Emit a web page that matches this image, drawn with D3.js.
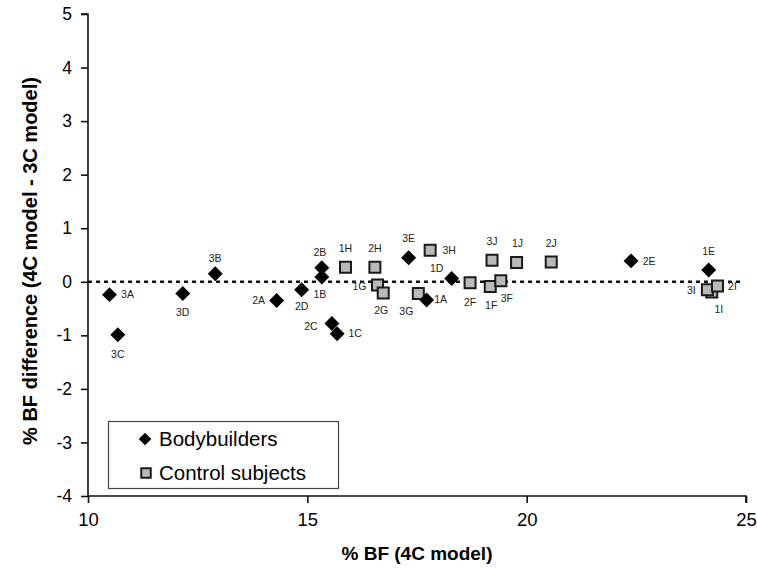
<!DOCTYPE html>
<html>
<head>
<meta charset="utf-8">
<script src="https://cdn.jsdelivr.net/npm/d3@7"></script>
<style>
  body { margin: 0; background: #fff; }
  text { font-family: Arial, "Liberation Sans", sans-serif; fill: #000; }
</style>
</head>
<body>
<script>
var W = 757, H = 570;

// 보디빌더 (diamond)
var bbIds = ["3A", "3C", "3D", "3B", "2A", "2D", "2B", "1B", "2C", "1C", "3E", "1A", "1D", "2E", "1E"];
var bbX   = [10.49, 10.68, 12.16, 12.90, 14.30, 14.87, 15.33, 15.33, 15.56, 15.68, 17.31, 17.72, 18.29, 22.38, 24.15];
var bbY   = [-0.24, -0.99, -0.22, 0.15, -0.35, -0.15, 0.26, 0.09, -0.78, -0.97, 0.45, -0.34, 0.06, 0.39, 0.22];

// 대조군 (square)
var ctIds = ["1H", "2H", "1G", "2G", "3G", "3H", "2F", "1F", "3F", "3J", "1J", "2J", "1I", "3I", "2I"];
var ctX   = [15.87, 16.54, 16.60, 16.73, 17.53, 17.80, 18.71, 19.17, 19.41, 19.21, 19.77, 20.56, 24.22, 24.12, 24.35];
var ctY   = [0.27, 0.27, -0.06, -0.21, -0.22, 0.59, -0.02, -0.09, 0.02, 0.40, 0.36, 0.37, -0.19, -0.15, -0.08];

var xTicks = [10, 15, 20, 25];
var yTicks = [5, 4, 3, 2, 1, 0, -1, -2, -3, -4];
var legendNames = ["Bodybuilders", "Control subjects"];

// label placement (dx, dy from the marker centre)
var labelPos = {
  "3A": [18, 0], "3C": [0, 19], "3D": [0, 19], "3B": [0, -16], "2A": [-18, 0],
  "2D": [0, 16], "2B": [-2, -16], "1B": [-2, 17], "2C": [-21, 3], "1C": [18, -1],
  "3E": [0, -19], "1A": [14, -1], "1D": [-15, -10], "2E": [18, 0], "1E": [0, -19],
  "1H": [0, -19], "2H": [0, -19], "1G": [-18, 1], "2G": [-2, 17], "3G": [-12, 18],
  "3H": [19, 0], "2F": [0, 19], "1F": [1, 19], "3F": [6, 18], "3J": [0, -19],
  "1J": [1, -19], "2J": [0, -19], "1I": [7, 17], "3I": [-16, 0], "2I": [15, 0]
};

var margin = {left: 88, right: 11, top: 14, bottom: 74};

var svg = d3.select("body").append("svg")
  .attr("width", W).attr("height", H);

var x = d3.scaleLinear().domain([10, 25]).range([margin.left, W - margin.right]);
var y = d3.scaleLinear().domain([-4, 5]).range([H - margin.bottom, margin.top]);

// plain hyphen for negatives, like the original
var fmt = function(d) { return String(d); };

// axes
var xAxis = svg.append("g")
  .attr("transform", "translate(0," + y(-4) + ")")
  .call(d3.axisBottom(x).tickValues(xTicks).tickSize(7).tickPadding(10).tickFormat(fmt));
xAxis.selectAll("text").style("font-size", "18.5px");

var yAxis = svg.append("g")
  .attr("transform", "translate(" + x(10) + ",0)")
  .call(d3.axisLeft(y).tickValues(yTicks).tickSize(7).tickPadding(9).tickFormat(fmt));
yAxis.selectAll("text").style("font-size", "17.5px");

svg.selectAll(".domain, .tick line").attr("stroke", "#111").attr("stroke-width", 1.6);
xAxis.select(".domain").attr("d", "M" + x(10) + ",0H" + x(25) + "V7");
yAxis.select(".domain").attr("d", "M-7," + y(5) + "H0V" + y(-4));

// zero line
svg.append("line")
  .attr("x1", x(10)).attr("x2", x(25) - 2)
  .attr("y1", y(0)).attr("y2", y(0))
  .attr("stroke", "#111").attr("stroke-width", 2.6)
  .attr("stroke-dasharray", "4,4");

// axis titles
svg.append("text")
  .attr("x", (x(10) + x(25)) / 2).attr("y", 560)
  .attr("text-anchor", "middle")
  .style("font-size", "19px").style("font-weight", "bold")
  .text("% BF (4C model)");

svg.append("text")
  .attr("transform", "translate(37," + ((y(5) + y(-4)) / 2 + 6) + ") rotate(-90)")
  .attr("text-anchor", "middle")
  .style("font-size", "20px").style("font-weight", "bold")
  .text("% BF difference (4C model - 3C model)");

var diamond = d3.symbol().type(d3.symbolSquare).size(112);
var square = d3.symbol().type(d3.symbolSquare).size(121);

var bb = bbIds.map(function(id, i) { return {id: id, x: bbX[i], y: bbY[i]}; });
var ct = ctIds.map(function(id, i) { return {id: id, x: ctX[i], y: ctY[i]}; });

// control subjects
svg.selectAll("path.ct")
  .data(ct)
  .enter()
  .append("path")
  .attr("class", "ct")
  .attr("d", square)
  .attr("transform", function(d) { return "translate(" + x(d.x) + "," + y(d.y) + ")"; })
  .attr("fill", "#b9b9b9")
  .attr("stroke", "#1a1a1a")
  .attr("stroke-width", 2);

// bodybuilders
svg.selectAll("path.bb")
  .data(bb)
  .enter()
  .append("path")
  .attr("class", "bb")
  .attr("d", diamond)
  .attr("transform", function(d) { return "translate(" + x(d.x) + "," + y(d.y) + ") rotate(45)"; })
  .attr("fill", "#000");

// point labels
svg.selectAll("text.lbl")
  .data(bb.concat(ct))
  .enter()
  .append("text")
  .attr("class", "lbl")
  .attr("x", function(d) { return x(d.x) + labelPos[d.id][0]; })
  .attr("y", function(d) { return y(d.y) + labelPos[d.id][1]; })
  .attr("dy", "0.36em")
  .attr("text-anchor", "middle")
  .style("font-size", "10.5px")
  .style("fill", "#222")
  .text(function(d) { return d.id; });

// legend
var lg = svg.append("g");
lg.append("rect")
  .attr("x", 108.5).attr("y", 421.5)
  .attr("width", 230).attr("height", 67)
  .attr("fill", "#fff").attr("stroke", "#444").attr("stroke-width", 1.2);

lg.append("path")
  .attr("d", d3.symbol().type(d3.symbolSquare).size(80))
  .attr("transform", "translate(145,439) rotate(45)")
  .attr("fill", "#000");
lg.append("path")
  .attr("d", d3.symbol().type(d3.symbolSquare).size(90))
  .attr("transform", "translate(146,473)")
  .attr("fill", "#b9b9b9").attr("stroke", "#1a1a1a").attr("stroke-width", 2);

lg.selectAll("text")
  .data(legendNames)
  .enter()
  .append("text")
  .attr("x", 159)
  .attr("y", function(d, i) { return 446 + i * 34; })
  .style("font-size", "20.5px")
  .text(function(d) { return d; });
</script>
</body>
</html>
